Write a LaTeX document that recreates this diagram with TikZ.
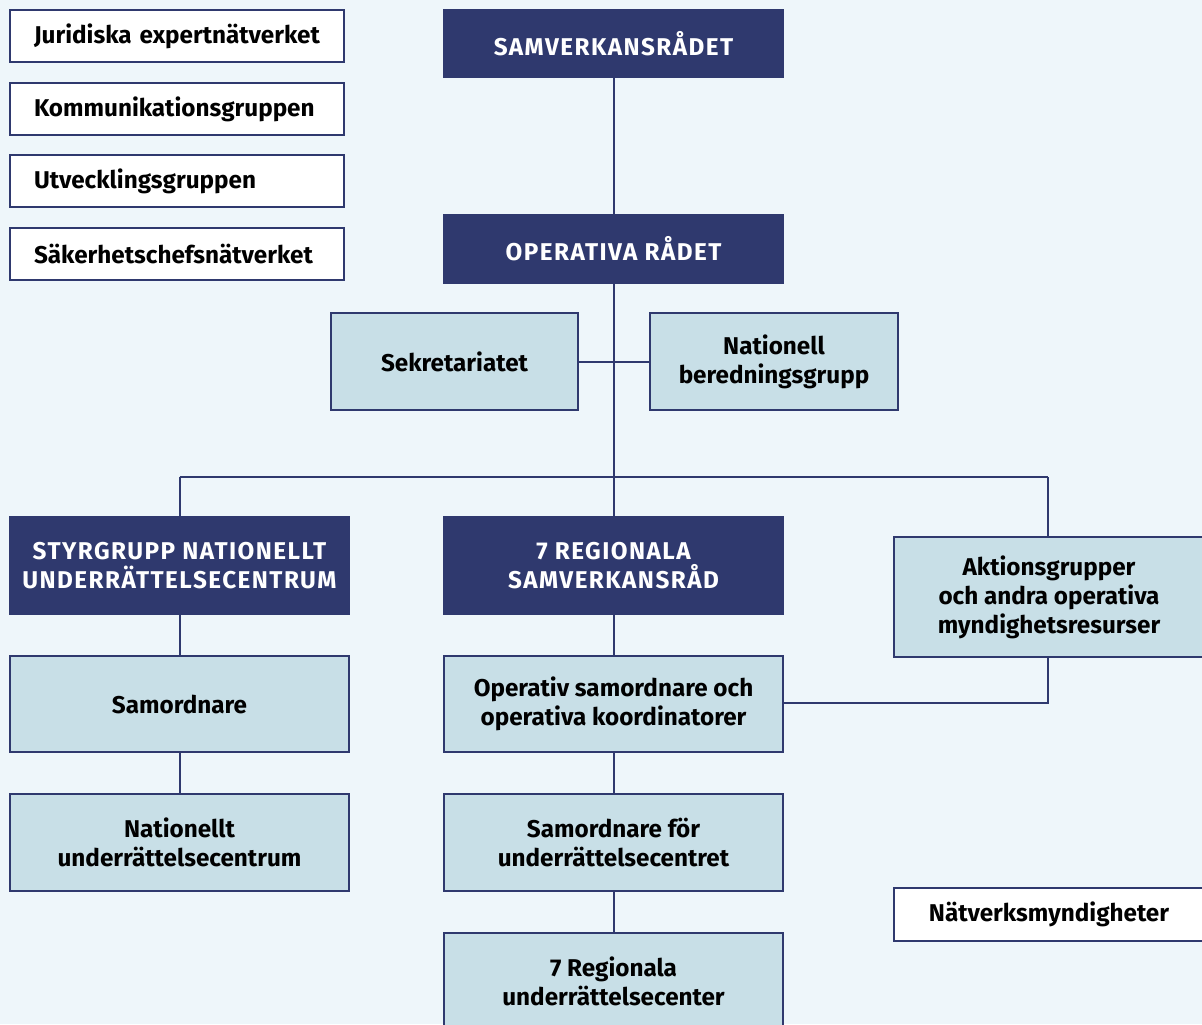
\documentclass[tikz,border=0pt]{standalone}
\usepackage{fontspec}
\setmainfont{Fira Sans}
\definecolor{bg}{HTML}{EEF6FA}
\definecolor{navy}{HTML}{2F396E}
\definecolor{lightbox}{HTML}{C8DFE7}
\newfontfamily\capsfont[LetterSpace=6]{Fira Sans}
\tikzset{
  base/.style={draw=navy, line width=1.1pt, inner sep=0pt, align=center, font=\bfseries\fontsize{18.2}{21.75}\selectfont},
  darkbox/.style={base, fill=navy, text=white, font=\capsfont\bfseries\fontsize{18.2}{21.75}\selectfont},
  lightnode/.style={base, fill=lightbox, text=black},
  whitebox/.style={base, fill=white, text=black},
  sidebox/.style={whitebox, minimum height=39pt, text width=214.5pt, inner xsep=18pt, align=left},
  conn/.style={draw=navy, line width=1.5pt}
}
\begin{document}
\begin{tikzpicture}[x=0.75pt,y=-0.75pt]
\fill[bg] (0,0) rectangle (1202,1024);
\useasboundingbox (0,0) rectangle (1202,1024);
% side boxes
\node[sidebox] (jur) at (177,36) {Juridiska expertnätverket};
\node[sidebox] (kom) at (177,109) {Kommunikationsgruppen};
\node[sidebox] (utv) at (177,181) {Utvecklingsgruppen};
\node[sidebox] (sak) at (177,254) {Säkerhetschefsnätverket};
% main column
\node[darkbox, minimum width=254.25pt, minimum height=50.25pt] (samv) at (613.5,43.5) {SAMVERKANSRÅDET};
\node[darkbox, minimum width=254.25pt, minimum height=51pt] (oper) at (613.5,249) {OPERATIVA RÅDET};
\node[lightnode, minimum width=185.25pt, minimum height=72.75pt] (sekr) at (454.5,361.5) {Sekretariatet};
\node[lightnode, minimum width=186pt, minimum height=72.75pt] (nat) at (774,361.5) {Nationell\\beredningsgrupp};
\node[darkbox, minimum width=254.25pt, minimum height=72.75pt] (styr) at (179.5,565.5) {STYRGRUPP NATIONELLT\\UNDERRÄTTELSECENTRUM};
\node[darkbox, minimum width=254.25pt, minimum height=72.75pt] (reg7) at (613.5,565.5) {7 REGIONALA\\SAMVERKANSRÅD};
\node[lightnode, minimum width=232.5pt, minimum height=90pt] (akt) at (1049,597) {Aktionsgrupper\\och andra operativa\\myndighetsresurser};
\node[lightnode, minimum width=254.25pt, minimum height=72pt] (samo) at (179.5,704) {Samordnare};
\node[lightnode, minimum width=254.25pt, minimum height=72pt] (opsa) at (613.5,704) {Operativ samordnare och\\operativa koordinatorer};
\node[lightnode, minimum width=254.25pt, minimum height=72.75pt] (nuc) at (179.5,842.5) {Nationellt\\underrättelsecentrum};
\node[lightnode, minimum width=254.25pt, minimum height=72.75pt] (sfu) at (613.5,842.5) {Samordnare för\\underrättelsecentret};
\node[whitebox, minimum width=232.5pt, minimum height=39.75pt] (natv) at (1049,914.5) {Nätverksmyndigheter};
\node[lightnode, minimum width=254.25pt, minimum height=72.75pt] (r7u) at (613.5,981.5) {7 Regionala\\underrättelsecenter};
% connectors
\coordinate (hc) at (613.5,477);
\coordinate (hl) at (179.5,477);
\coordinate (hr) at (1048,477);
\coordinate (ak) at (1048,703);
\draw[conn] (samv.south) -- (oper.north);
\draw[conn] (oper.south) -- (hc) -- (reg7.north);
\draw[conn] (sekr.east) -- (nat.west);
\draw[conn] (hl) -- (hr);
\draw[conn] (hl) -- (styr.north);
\draw[conn] (hr) -- (hr |- akt.north);
\draw[conn] (styr.south) -- (samo.north);
\draw[conn] (samo.south) -- (nuc.north);
\draw[conn] (reg7.south) -- (opsa.north);
\draw[conn] (opsa.south) -- (sfu.north);
\draw[conn] (sfu.south) -- (r7u.north);
\draw[conn] (ak |- akt.south) -- (ak) -- (opsa.east |- ak);
\end{tikzpicture}
\end{document}
